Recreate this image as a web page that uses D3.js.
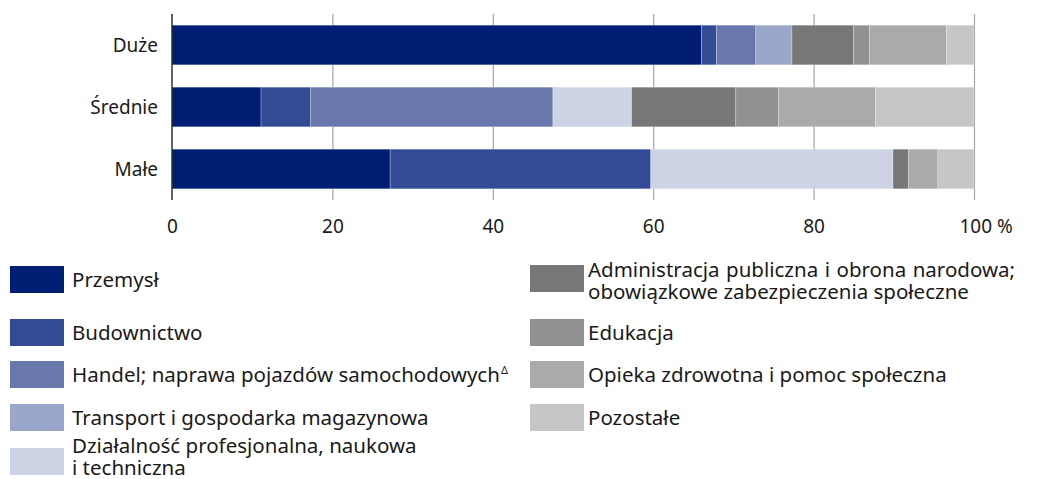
<!DOCTYPE html>
<html>
<head>
<meta charset="utf-8">
<script src="https://cdn.jsdelivr.net/npm/d3@7"></script>
<style>
  body { margin: 0; background: #fff; }
  svg { display: block; font-family: 'Noto Sans', sans-serif; }
  text { fill: #1a1a1a; }
</style>
</head>
<body>
<div id="chart"></div>
<script>
// kategorie (wielkość przedsiębiorstw)
const categories = ['Duże', 'Średnie', 'Małe']

// sekcje PKD
const sectors = [
  'Przemysł',
  'Budownictwo',
  'Handel; naprawa pojazdów samochodowych',
  'Transport i gospodarka magazynowa',
  'Działalność profesjonalna, naukowa i techniczna',
  'Administracja publiczna i obrona narodowa; obowiązkowe zabezpieczenia społeczne',
  'Edukacja',
  'Opieka zdrowotna i pomoc społeczna',
  'Pozostałe'
]

// udział w % dla [Duże, Średnie, Małe]
const przemysl = [66.0, 11.1, 27.2]
const budownictwo = [1.9, 6.2, 32.5]
const handel = [4.9, 30.2, 0]
const transport = [4.5, 0, 0]
const dzialalnosc = [0, 9.8, 30.2]
const administracja = [7.7, 13.0, 1.9]
const edukacja = [2.0, 5.3, 0]
const opieka = [9.6, 12.1, 3.7]
const pozostale = [3.4, 12.3, 4.5]

const xTicks = [0, 20, 40, 60, 80, 100]

const seriesValues = [przemysl, budownictwo, handel, transport, dzialalnosc,
  administracja, edukacja, opieka, pozostale]

const colors = ['#001e74', '#334a94', '#6878ac', '#9aa6ca', '#cdd3e5',
  '#777777', '#919191', '#aaaaaa', '#c6c6c6']

const width = 1046
const height = 479
const margin = { top: 14, left: 172, right: 72 }

const svg = d3.select('#chart')
  .append('svg')
  .attr('width', width)
  .attr('height', height)

const x = d3.scaleLinear()
  .domain([0, 100])
  .range([margin.left, width - margin.right])

const y = d3.scaleBand()
  .domain(categories)
  .range([14, 200])
  .paddingInner(0.36)
  .paddingOuter(0.18)

// tabela do stosu
const table = categories.map((c, i) => {
  const row = { category: c }
  sectors.forEach((s, j) => { row[s] = seriesValues[j][i] })
  return row
})
const stacked = d3.stack().keys(sectors)(table)

// siatka
svg.append('g')
  .selectAll('line')
  .data(xTicks.slice(1))
  .join('line')
  .attr('x1', d => x(d) + 0.5)
  .attr('x2', d => x(d) + 0.5)
  .attr('y1', 14)
  .attr('y2', 200)
  .attr('stroke', '#a6a6a6')
  .attr('stroke-width', 1.2)

// słupki
svg.append('g')
  .selectAll('g')
  .data(stacked)
  .join('g')
  .attr('fill', (d, i) => colors[i])
  .selectAll('rect')
  .data(d => d.filter(p => p[1] - p[0] > 0))
  .join('rect')
  .attr('x', d => x(d[0]))
  .attr('y', d => y(d.data.category))
  .attr('width', d => x(d[1]) - x(d[0]))
  .attr('height', y.bandwidth())
  .attr('stroke', '#fff')
  .attr('stroke-opacity', 0.45)
  .attr('stroke-width', 0.6)

// oś pionowa
svg.append('line')
  .attr('x1', x(0))
  .attr('x2', x(0))
  .attr('y1', 14)
  .attr('y2', 200)
  .attr('stroke', '#222')
  .attr('stroke-width', 1.4)

// etykiety kategorii
svg.append('g')
  .selectAll('text')
  .data(categories)
  .join('text')
  .attr('x', x(0) - 14)
  .attr('y', d => y(d) + y.bandwidth() / 2)
  .attr('dy', '0.35em')
  .attr('text-anchor', 'end')
  .attr('font-size', 19)
  .text(d => d)

// oś X
const xAxis = svg.append('g')
  .attr('transform', 'translate(0,200)')
  .call(d3.axisBottom(x).tickValues(xTicks).tickSize(0).tickPadding(20)
    .tickFormat(d => d === 100 ? '100 %' : d))
xAxis.select('.domain').remove()
xAxis.selectAll('text')
  .attr('font-size', 19)
  .attr('font-family', "'Noto Sans', sans-serif")
  .attr('fill', '#1a1a1a')
xAxis.selectAll('.tick').filter(d => d === 100).select('text')
  .attr('text-anchor', 'start')
  .attr('dx', -15)

// legenda
const legendLines = [
  ['Przemysł'],
  ['Budownictwo'],
  ['Handel; naprawa pojazdów samochodowych'],
  ['Transport i gospodarka magazynowa'],
  ['Działalność profesjonalna, naukowa', 'i techniczna'],
  ['Administracja publiczna i obrona narodowa;', 'obowiązkowe zabezpieczenia społeczne'],
  ['Edukacja'],
  ['Opieka zdrowotna i pomoc społeczna'],
  ['Pozostałe']
]
const legendPos = [
  [10, 266], [10, 319], [10, 361], [10, 404], [10, 448],
  [530, 265], [530, 319], [530, 361], [530, 404]
]

const legend = svg.append('g')
  .selectAll('g')
  .data(sectors)
  .join('g')
  .attr('transform', (d, i) => `translate(${legendPos[i][0]},${legendPos[i][1]})`)

legend.append('rect')
  .attr('width', 54)
  .attr('height', 27)
  .attr('fill', (d, i) => colors[i])

legend.each(function (d, i) {
  const g = d3.select(this)
  const lines = legendLines[i]
  const t = g.append('text')
    .attr('x', i < 5 ? 62 : 58)
    .attr('font-size', 20.5)
  lines.forEach((line, k) => {
    const y0 = lines.length === 1 ? 14 : (i === 4 ? -2 : 5) + k * 21.5
    const ts = t.append('tspan')
      .attr('x', i < 5 ? 62 : 58)
      .attr('y', y0)
      .attr('dy', '0.35em')
      .text(line)
    if (i === 5 && k === 0) ts.attr('class', 'justify')
  })
  if (i === 2) {
    t.select('tspan').append('tspan')
      .attr('font-size', 11)
      .attr('dx', 1)
      .attr('dy', '-0.7em')
      .text('Δ')
  }
})

// wyjustowanie pierwszego wiersza legendy administracji
svg.selectAll('tspan.justify').each(function () {
  const el = this
  const words = el.textContent.split(' ').length
  const target = 1015 - 588
  const w = el.getComputedTextLength()
  if (w < target) d3.select(el).attr('word-spacing', (target - w) / (words - 1))
})
</script>
</body>
</html>
